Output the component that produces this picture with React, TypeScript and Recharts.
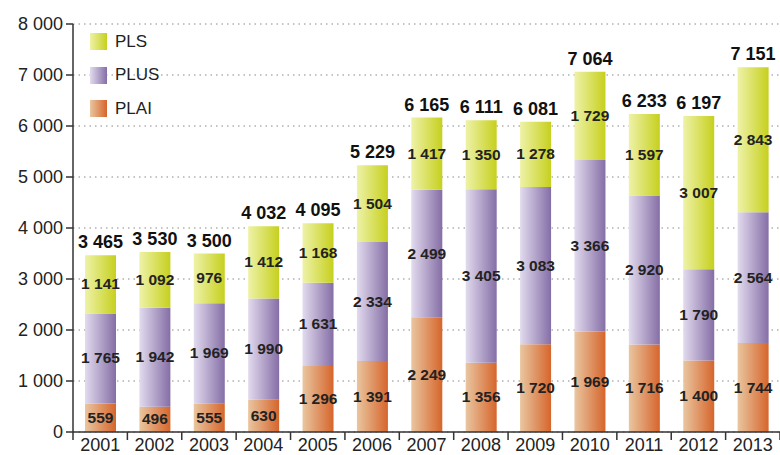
import { Bar, BarChart, CartesianGrid, LabelList, XAxis, YAxis } from 'recharts';

const years = ['2001', '2002', '2003', '2004', '2005', '2006', '2007', '2008', '2009', '2010', '2011', '2012', '2013'];
const plai = [559, 496, 555, 630, 1296, 1391, 2249, 1356, 1720, 1969, 1716, 1400, 1744];
const plus = [1765, 1942, 1969, 1990, 1631, 2334, 2499, 3405, 3083, 3366, 2920, 1790, 2564];
const pls = [1141, 1092, 976, 1412, 1168, 1504, 1417, 1350, 1278, 1729, 1597, 3007, 2843];
const totals = [3465, 3530, 3500, 4032, 4095, 5229, 6165, 6111, 6081, 7064, 6233, 6197, 7151];
const yTicks = [0, 1000, 2000, 3000, 4000, 5000, 6000, 7000, 8000];

const data = years.map((year, i) => ({
  year,
  plai: plai[i],
  plus: plus[i],
  pls: pls[i],
  total: totals[i],
}));

const FONT = '"Liberation Sans", Arial, sans-serif';
const W = 780;
const H = 455;
const MARGIN = { top: 24, right: 0, bottom: 0, left: 0 };
const Y_WIDTH = 73;
const HALF_BAND = (W - MARGIN.right - Y_WIDTH) / years.length / 2;

const fmt = (v: any) => String(v).replace(/\B(?=(\d{3})+(?!\d))/g, ' ');

const legendItems = [
  { name: 'PLS', from: '#eef2a8', to: '#c6d01e' },
  { name: 'PLUS', from: '#e2dbee', to: '#856ea6' },
  { name: 'PLAI', from: '#e9c6a0', to: '#d6652c' },
];

function ChartLegend() {
  return (
    <div style={{ position: 'absolute', left: 90, top: 25, fontFamily: FONT, fontSize: 17, color: '#222' }}>
      {legendItems.map((it) => (
        <div key={it.name} style={{ display: 'flex', alignItems: 'center', height: 33.5 }}>
          <span
            style={{
              width: 17,
              height: 17,
              marginRight: 8,
              background: `linear-gradient(to right, ${it.from}, ${it.to})`,
            }}
          />
          {it.name}
        </div>
      ))}
    </div>
  );
}

// tick of the category axis: label at the centre, tick mark at the band's left edge
function YearTick(props: any) {
  const { x, y, payload, index } = props;
  const last = index === years.length - 1;
  return (
    <g>
      <line x1={x - HALF_BAND} x2={x - HALF_BAND} y1={y - 8} y2={y} stroke="#333" strokeWidth={1.5} />
      {last && <line x1={x + HALF_BAND} x2={x + HALF_BAND} y1={y - 8} y2={y} stroke="#333" strokeWidth={1.5} />}
      <text x={x} y={y + 11} textAnchor="middle" fill="#222" fontSize={18} fontFamily={FONT}>
        {payload.value}
      </text>
    </g>
  );
}

const segLabel = (props: any) => {
  const { x, y, width, height, value } = props;
  return (
    <text
      x={x + width / 2}
      y={y + height / 2}
      dy={5}
      textAnchor="middle"
      fill="#222"
      fontSize={15.5}
      fontWeight={700}
      fontFamily={FONT}
    >
      {fmt(value)}
    </text>
  );
};

const totalLabel = (props: any) => {
  const { x, y, width, value } = props;
  return (
    <text x={x + width / 2} y={y - 7} textAnchor="middle" fill="#111" fontSize={18} fontWeight={700} fontFamily={FONT}>
      {fmt(value)}
    </text>
  );
};

export default function App() {
  return (
    <div style={{ position: 'absolute', left: 0, top: 0, width: W, height: H, background: '#fff', overflow: 'hidden' }}>
      <BarChart width={W} height={H} data={data} margin={MARGIN} barSize={31}>
        <defs>
          {legendItems.map((it) => (
            <linearGradient key={it.name} id={`g-${it.name}`} x1="0" y1="0" x2="1" y2="0">
              <stop offset="0%" stopColor={it.from} />
              <stop offset="100%" stopColor={it.to} />
            </linearGradient>
          ))}
        </defs>
        <CartesianGrid vertical={false} stroke="#888" strokeDasharray="1.5 4" />
        <XAxis
          dataKey="year"
          axisLine={{ stroke: '#333', strokeWidth: 1.5 }}
          tickLine={false}
          tick={<YearTick />}
          height={23}
          interval={0}
        />
        <YAxis
          domain={[0, 8000]}
          ticks={yTicks}
          width={Y_WIDTH}
          axisLine={{ stroke: '#333', strokeWidth: 1.5 }}
          tickLine={{ stroke: '#333', strokeWidth: 1.5 }}
          tickSize={7}
          tickMargin={3}
          tickFormatter={fmt}
          tick={{ fill: '#222', fontSize: 18, fontFamily: FONT }}
        />
        <Bar dataKey="plai" stackId="a" fill="url(#g-PLAI)" isAnimationActive={false}>
          <LabelList dataKey="plai" content={segLabel} />
        </Bar>
        <Bar dataKey="plus" stackId="a" fill="url(#g-PLUS)" isAnimationActive={false}>
          <LabelList dataKey="plus" content={segLabel} />
        </Bar>
        <Bar dataKey="pls" stackId="a" fill="url(#g-PLS)" isAnimationActive={false}>
          <LabelList dataKey="pls" content={segLabel} />
          <LabelList dataKey="total" content={totalLabel} />
        </Bar>
      </BarChart>
      <ChartLegend />
    </div>
  );
}
